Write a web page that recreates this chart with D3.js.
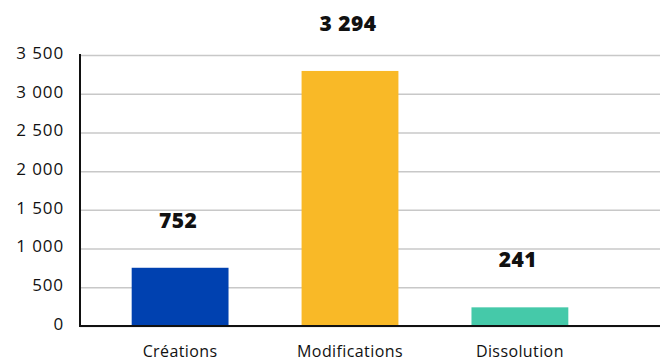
<!DOCTYPE html>
<meta charset="utf-8">
<style>
    body { margin: 0; background: #fff; }
    text { font-family: "Open Sans", Lato, sans-serif; fill: #111; }
    .tick text { font-size: 17px; letter-spacing: 0.9px; }
    .grid line { stroke: #c8c8c8; stroke-width: 1.5px; }
    .grid path { stroke-width: 0; }
    .value { font-size: 21px; font-weight: 800; letter-spacing: 0.5px; }
    .cat { font-size: 16px; font-weight: 500; letter-spacing: 0.4px; }
</style>
<body>
    <svg width="661" height="363"></svg>
</body>
<script src="https://d3js.org/d3.v7.min.js"></script>
<script>
    var categories = ["Créations", "Modifications", "Dissolution"];
    var values = [752, 3294, 241];
    var colors = ["#0041b0", "#f9b927", "#45c9a9"];
    var yTicks = [0, 500, 1000, 1500, 2000, 2500, 3000, 3500];

    var svg = d3.select("svg"),
        width = +svg.attr("width"),
        height = +svg.attr("height");

    var fr = d3.formatLocale({ decimal: ",", thousands: "\u00a0", grouping: [3], currency: ["", " €"] });
    var fmt = fr.format(",d");

    // plot area
    var plotLeft = 80, plotRight = 660, plotTop = 55, plotBottom = 326;

    var y = d3.scaleLinear().domain([0, 3500]).range([plotBottom, plotTop]);
    var x = d3.scaleBand().domain(categories).range([96, 604]).paddingInner(0.43).paddingOuter(0.21);

    // gridlines + tick labels
    var yAxis = svg.append("g")
        .attr("class", "grid")
        .attr("transform", "translate(" + plotLeft + ",0)")
        .call(d3.axisLeft(y).tickValues(yTicks).tickSize(-(plotRight - plotLeft)).tickPadding(16).tickFormat(fmt));
    yAxis.selectAll(".tick text").style("fill", "#111").attr("dy", "0.2em");

    // bars
    svg.selectAll(".bar")
        .data(values)
        .enter().append("rect")
        .attr("class", "bar")
        .attr("x", function (d, i) { return x(categories[i]); })
        .attr("width", x.bandwidth())
        .attr("y", function (d) { return y(d); })
        .attr("height", function (d) { return plotBottom - y(d); })
        .style("fill", function (d, i) { return colors[i]; });

    // value labels
    svg.selectAll(".value")
        .data(values)
        .enter().append("text")
        .attr("class", "value")
        .attr("x", function (d, i) { return x(categories[i]) + x.bandwidth() / 2 - 2; })
        .attr("y", function (d) { return y(d) - 40; })
        .attr("text-anchor", "middle")
        .text(fmt);

    // axis lines
    svg.append("line")
        .attr("x1", plotLeft).attr("x2", plotLeft)
        .attr("y1", plotTop - 1).attr("y2", plotBottom)
        .style("stroke", "#111").style("stroke-width", 2);
    svg.append("line")
        .attr("x1", plotLeft - 1).attr("x2", plotRight)
        .attr("y1", plotBottom).attr("y2", plotBottom)
        .style("stroke", "#111").style("stroke-width", 2);

    // category labels
    svg.selectAll(".cat")
        .data(categories)
        .enter().append("text")
        .attr("class", "cat")
        .attr("x", function (d) { return x(d) + x.bandwidth() / 2; })
        .attr("y", 357)
        .attr("text-anchor", "middle")
        .text(function (d) { return d; });
</script>
